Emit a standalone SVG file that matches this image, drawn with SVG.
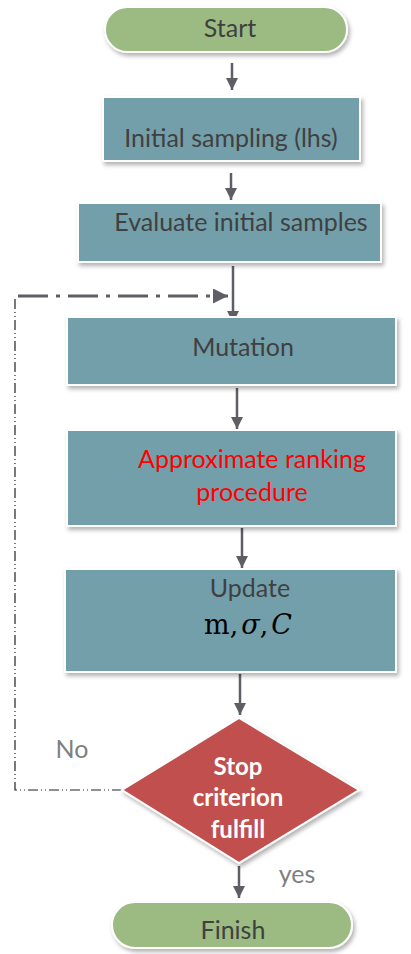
<svg xmlns="http://www.w3.org/2000/svg" width="411" height="954" viewBox="0 0 411 954">
<style>
  .box { fill: #739FAB; stroke: #ffffff; stroke-width: 2; filter: url(#sh); }
  .pill { fill: #9BBB83; stroke: #ffffff; stroke-width: 2; filter: url(#sh); }
  .dia { fill: #C0504D; stroke: #ffffff; stroke-width: 2; filter: url(#sh); }
  .t { font-family: Lato, "Open Sans", "Liberation Sans", sans-serif; font-size: 25px; fill: #404040; text-anchor: middle; }
  .red { fill: #FF0000; }
  .w { fill: #ffffff; font-weight: bold; font-size: 24px; }
  .g { fill: #7F7F7F; }
  .arr { stroke: #5E5E64; stroke-width: 2.5; fill: none; marker-end: url(#ah); }
</style>
<defs>
  <filter id="sh" x="-10%" y="-10%" width="120%" height="130%">
    <feDropShadow dx="2" dy="3" stdDeviation="2" flood-color="#000000" flood-opacity="0.3"/>
  </filter>
  <marker id="ah" viewBox="0 0 10 10" refX="10" refY="5" markerWidth="5" markerHeight="5" orient="auto" markerUnits="strokeWidth">
    <path d="M0,0 L10,5 L0,10 z" fill="#5E5E64"/>
  </marker>
</defs>
<g id="connectors">
  <line class="arr" x1="232" y1="63" x2="232" y2="90"/>
  <line class="arr" x1="231" y1="173" x2="231" y2="200"/>
  <line class="arr" x1="233" y1="266" x2="233" y2="323"/>
  <line class="arr" x1="237" y1="388" x2="237" y2="429"/>
  <line class="arr" x1="242" y1="528" x2="242" y2="568"/>
  <line class="arr" x1="240" y1="674" x2="240" y2="715"/>
  <line class="arr" x1="239" y1="866" x2="239" y2="898"/>
  <polyline points="122,790 15,790 15,296" fill="none" stroke="#222222" stroke-width="1.2" stroke-dasharray="10,3,1,3,1,3"/>
  <line x1="18" y1="296" x2="228" y2="296" stroke="#5E5E64" stroke-width="3" stroke-dasharray="30,8,4,8" marker-end="url(#ah)"/>
</g>
<g id="start">
  <rect class="pill" x="105" y="7" width="242" height="45" rx="22.5"/>
  <text class="t" x="230" y="37">Start</text>
</g>
<g id="initial">
  <rect class="box" x="103" y="97" width="257" height="64"/>
  <text class="t" x="231" y="147">Initial sampling (lhs)</text>
</g>
<g id="evaluate">
  <rect class="box" x="78" y="203" width="303" height="59"/>
  <text class="t" x="241" y="231">Evaluate initial samples</text>
</g>
<g id="mutation">
  <rect class="box" x="67" y="317" width="329" height="68"/>
  <text class="t" x="243" y="356">Mutation</text>
</g>
<g id="ranking">
  <rect class="box" x="67" y="430" width="329" height="96"/>
  <text class="t red" x="252" y="468">Approximate ranking</text>
  <text class="t red" x="252" y="501">procedure</text>
</g>
<g id="update">
  <rect class="box" x="65" y="569" width="331" height="103"/>
  <text class="t" x="250" y="597">Update</text>
  <text x="248" y="634" text-anchor="middle" font-family="'DejaVu Serif', 'Liberation Serif', serif" font-size="27" fill="#000000">m,<tspan dx="3" font-style="italic">σ</tspan>,<tspan dx="3" font-style="italic">C</tspan></text>
</g>
<g id="stop">
  <polygon class="dia" points="239,718 359,790 239,863 122,790"/>
  <text class="t w" x="238" y="775">Stop</text>
  <text class="t w" x="238" y="806">criterion</text>
  <text class="t w" x="238" y="838">fulfill</text>
</g>
<g id="labels">
  <text class="t g" x="72" y="758">No</text>
  <text class="t g" x="297" y="883">yes</text>
</g>
<g id="finish">
  <rect class="pill" x="112" y="902" width="240" height="46" rx="23"/>
  <text class="t" x="233" y="939">Finish</text>
</g>
</svg>
